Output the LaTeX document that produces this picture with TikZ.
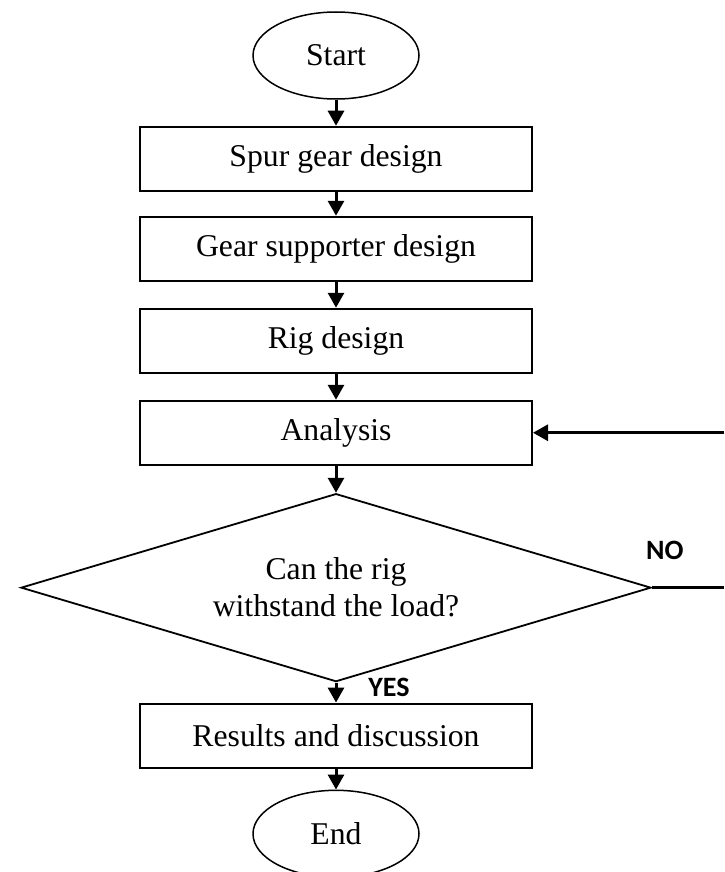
\documentclass[tikz,border=0pt]{standalone}
\usepackage{fontspec}
\setmainfont{Liberation Serif}
\newfontfamily\lblfont{Carlito}
\usetikzlibrary{arrows.meta,positioning,shapes.geometric}

\begin{document}
\begin{tikzpicture}[node distance=13pt, font=\fontsize{15.85}{18.5}\selectfont,
  box/.style={draw,line width=1pt,align=center,minimum width=196pt,minimum height=32pt,inner sep=0pt},
  term/.style={draw,ellipse,line width=0.75pt,minimum width=83pt,minimum height=43.5pt,inner sep=0pt},
  dec/.style={draw,diamond,line width=0.9pt,aspect=3.35,align=center,minimum width=315pt,minimum height=94pt,inner sep=0pt},
  lbl/.style={font=\lblfont\bfseries\fontsize{14}{16}\selectfont,inner sep=0pt},
  flow/.style={->,line width=1.5pt},
  >={Triangle[length=7.5pt,width=8pt]}]
\useasboundingbox (0,0) rectangle (362pt,-436pt);
\coordinate (edge) at (362pt,0);
\node[term] (start) at (168pt,-27.75pt) {Start};
\node[box, below=of start] (spur) {Spur gear design};
\draw[flow] (start) -- (spur);
\node[box, below=12pt of spur] (supp) {Gear supporter design};
\draw[flow] (spur) -- (supp);
\node[box, below=of supp] (rig) {Rig design};
\draw[flow] (supp) -- (rig);
\node[box, below=of rig] (ana) {Analysis};
\draw[flow] (rig) -- (ana);
\node[dec, below=13.5pt of ana] (load) {Can the rig\\withstand the load?};
\draw[flow] (ana) -- (load);
\node[box, below=10pt of load] (res) {Results and discussion};
\draw[flow] (load) -- (res);
\node[term, below=10.5pt of res] (end) {End};
\draw[flow] (res) -- (end);
% loop back when the rig fails
\draw[line width=1.5pt] (load.east) -- (load.east -| edge);
\draw[flow] (ana.east -| edge) -- (ana.east);
\node[lbl, above=14pt of load.east, xshift=6.5pt] (no) {NO};
\node[lbl, right=16pt of load.south, yshift=-2.5pt] (yes) {YES};
\end{tikzpicture}
\end{document}
